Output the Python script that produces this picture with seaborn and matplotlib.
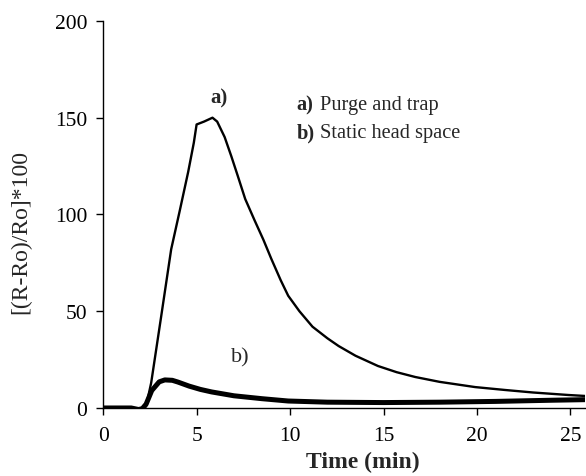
import numpy as np
import pandas as pd
import matplotlib
matplotlib.use("Agg")
import matplotlib.pyplot as plt
import seaborn as sns

# curve a) purge and trap
time_a = [0, 1.5, 1.9, 2.1, 2.3, 2.57, 3.1, 3.64, 4.1, 4.55, 4.85, 5.0, 5.4, 5.85,
          6.1, 6.5, 6.86, 7.2, 7.6, 8.1, 8.57, 9.0, 9.5, 9.9, 10.5, 11.2, 12.0,
          12.6, 13.5, 14.7, 15.7, 16.7, 18.0, 19.9, 21.5, 23.0, 24.9, 25.8]
resp_a = [0, 0, -0.8, -0.3, 1, 13, 47, 82, 102, 122, 137, 146.5, 148, 150,
          148, 140, 130, 120, 108, 97, 87, 77, 66, 58, 50, 42, 36,
          32, 27, 21.7, 18.5, 16, 13.5, 10.8, 9.3, 8.0, 6.7, 6.2]

# curve b) static head space
time_b = [0, 1.5, 1.9, 2.1, 2.3, 2.6, 3.0, 3.3, 3.7, 4.0, 4.6, 5.2, 5.8, 7.0,
          8.5, 9.9, 12.0, 15.0, 18.0, 21.0, 24.0, 25.8]
resp_b = [0, 0, -0.8, -0.3, 2, 9, 13.5, 14.5, 14.3, 13.4, 11.3, 9.6, 8.3, 6.3,
          4.8, 3.6, 3.0, 2.8, 3.0, 3.4, 4.0, 4.3]

df_a = pd.DataFrame({"t": time_a, "r": resp_a})
df_b = pd.DataFrame({"t": time_b, "r": resp_b})

sns.set_theme(style="ticks")
plt.rcParams["font.family"] = ["Liberation Serif", "DejaVu Serif"]

fig = plt.figure(figsize=(5.86, 4.77), dpi=100)
ax = fig.add_axes([0.176, 0.1426, 0.823, 0.8114])

sns.lineplot(data=df_a, x="t", y="r", ax=ax, color="black", linewidth=1.7,
             sort=False, estimator=None)
sns.lineplot(data=df_b, x="t", y="r", ax=ax, color="black", linewidth=3.6,
             sort=False, estimator=None)

ax.set_xlim(0, 25.8)
ax.set_ylim(0, 200)
ax.set_xticks([0, 5, 10, 15, 20, 25])
ax.set_yticks([0, 50, 100, 150, 200])
ax.tick_params(labelsize=15.5, length=5, width=1, colors="black", direction="out")
ax.tick_params(axis="x", pad=8)
ax.tick_params(axis="y", pad=6.5)
sns.despine(ax=ax)
for s in ["left", "bottom"]:
    ax.spines[s].set_color("black")
    ax.spines[s].set_linewidth(1.0)

ax.set_xlabel("Time (min)", fontsize=17, fontweight="bold")
ax.xaxis.set_label_coords(0.539, -0.137)
ax.xaxis.label.set_va("center")
ax.set_ylabel("[(R-Ro)/Ro]*100", fontsize=17)
ax.yaxis.set_label_coords(-0.17, 0.457)
ax.yaxis.label.set_va("center")

ax.text(6.2, 160.6, "a)", fontsize=15, fontweight="bold", ha="center", va="center")
ax.text(7.35, 26.3, "b)", fontsize=16, ha="center", va="center")

ax.text(10.35, 157, "a)", fontsize=14.7, fontweight="bold", va="center")
ax.text(11.6, 157, "Purge and trap", fontsize=14.7, va="center")
ax.text(10.35, 142.6, "b)", fontsize=14.7, fontweight="bold", va="center")
ax.text(11.6, 142.6, "Static head space", fontsize=14.7, va="center")

fig.savefig("out.png", dpi=100)
